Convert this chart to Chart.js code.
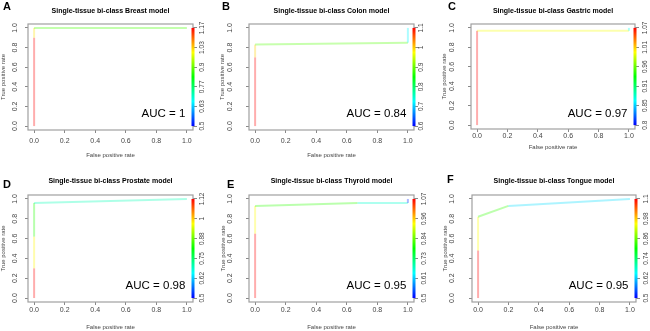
<!DOCTYPE html>
<html><head><meta charset="utf-8">
<script src="https://cdn.jsdelivr.net/npm/chart.js@4/dist/chart.umd.min.js"></script>
<style>
html,body{margin:0;padding:0;background:#fff;width:650px;height:331px;overflow:hidden;position:relative}
canvas{position:absolute}
</style>
</head><body>
<script>
// ---------- data ----------
const xTickValues = [0, 0.2, 0.4, 0.6, 0.8, 1.0];
const yTickValues = [0, 0.2, 0.4, 0.6, 0.8, 1.0];
const xTickLabels = ['0.0', '0.2', '0.4', '0.6', '0.8', '1.0'];
const yTickLabels = ['0.0', '0.2', '0.4', '0.6', '0.8', '1.0'];
const panelLetters = ['A', 'B', 'C', 'D', 'E', 'F'];
const panelTitles = [
  'Single-tissue bi-class Breast model',
  'Single-tissue bi-class Colon model',
  'Single-tissue bi-class Gastric model',
  'Single-tissue bi-class Prostate model',
  'Single-tissue bi-class Thyroid model',
  'Single-tissue bi-class Tongue model'
];
const aucValues = ['1', '0.84', '0.97', '0.98', '0.95', '0.95'];
const xAxisTitle = 'False positive rate';
const yAxisTitle = 'True positive rate';

// ROC curves (false positive rate, true positive rate, cutoff of each segment)
const breastFpr = [0, 0, 0, 1];
const breastTpr = [0, 0.9, 1, 1];
const breastCutoff = [1.17, 1.02, 0.88];
const breastScale = ['0.5', '0.63', '0.77', '0.9', '1.03', '1.17'];

const colonFpr = [0, 0, 0, 1, 1];
const colonTpr = [0, 0.7, 0.83, 0.85, 1];
const colonCutoff = [1.1, 1.0, 0.89, 0.72];
const colonScale = ['0.6', '0.7', '0.8', '0.9', '1', '1.1'];

const gastricFpr = [0, 0, 1, 1];
const gastricTpr = [0, 0.97, 0.97, 1];
const gastricCutoff = [1.07, 1.0, 0.87];
const gastricScale = ['0.8', '0.85', '0.91', '0.96', '1.01', '1.07'];

const prostateFpr = [0, 0, 0, 0, 1];
const prostateTpr = [0, 0.3, 0.62, 0.96, 1];
const prostateCutoff = [1.12, 0.97, 0.83, 0.70];
const prostateScale = ['0.5', '0.62', '0.75', '0.88', '1', '1.12'];

const thyroidFpr = [0, 0, 0, 0.67, 1, 1];
const thyroidTpr = [0, 0.65, 0.93, 0.96, 0.96, 1];
const thyroidCutoff = [1.07, 0.93, 0.81, 0.67, 0.52];
const thyroidScale = ['0.5', '0.61', '0.73', '0.84', '0.96', '1.07'];

const tongueFpr = [0, 0, 0, 0.2, 1];
const tongueTpr = [0, 0.48, 0.82, 0.93, 1];
const tongueCutoff = [1.1, 0.95, 0.83, 0.63];
const tongueScale = ['0.5', '0.62', '0.74', '0.86', '0.98', '1.1'];

const curves = [
  {fpr: breastFpr, tpr: breastTpr, cut: breastCutoff, scale: breastScale},
  {fpr: colonFpr, tpr: colonTpr, cut: colonCutoff, scale: colonScale},
  {fpr: gastricFpr, tpr: gastricTpr, cut: gastricCutoff, scale: gastricScale},
  {fpr: prostateFpr, tpr: prostateTpr, cut: prostateCutoff, scale: prostateScale},
  {fpr: thyroidFpr, tpr: thyroidTpr, cut: thyroidCutoff, scale: thyroidScale},
  {fpr: tongueFpr, tpr: tongueTpr, cut: tongueCutoff, scale: tongueScale}
];

// ---------- layout (page pixels) ----------
const layoutCfg = [
  {cell:[0,0,215,165],   box:[28,24,193,130],  letter:[3,10],    yTitleX:3.5,   yLabelX:15,  xLabelY:141,   xTitleY:155, cbLabelX:202.7, titleY:11},
  {cell:[215,0,215,165], box:[249,24,414,130], letter:[222,9.5], yTitleX:222.5, yLabelX:230, xLabelY:141,   xTitleY:155, cbLabelX:421,   titleY:11},
  {cell:[430,0,220,165], box:[471,24,635,129], letter:[448,10],  yTitleX:444,   yLabelX:452, xLabelY:136,   xTitleY:147, cbLabelX:645,   titleY:11},
  {cell:[0,165,215,166], box:[28,195,193,302], letter:[3,188],   yTitleX:3.5,   yLabelX:15,  xLabelY:310.5, xTitleY:327, cbLabelX:202,   titleY:181},
  {cell:[215,165,215,166], box:[249,195,414,302], letter:[227,188], yTitleX:223.5, yLabelX:230, xLabelY:310.5, xTitleY:327, cbLabelX:424, titleY:181},
  {cell:[430,165,220,166], box:[472,195,636,302], letter:[447,182.5], yTitleX:445, yLabelX:452, xLabelY:310.5, xTitleY:327, cbLabelX:646, titleY:181}
];

const FF = 'Arial, "Liberation Sans", Helvetica, sans-serif';
const TICK_SIZE = 7, CB_SIZE = 6.5, AXT_SIZE = 6, TITLE_SIZE = 7;
const TL = 3;
const ALPHA = 0.32;
const mctx = document.createElement('canvas').getContext('2d');
function textW(t, size) { mctx.font = size + 'px ' + FF; return mctx.measureText(t).width; }
function widest(arr, size) { return Math.max(...arr.map(t => textW(t, size))); }

function cutColor(v, lo, hi, a) {
  const p = Math.max(0, Math.min(1, (v - lo) / (hi - lo)));
  return `hsla(${(1 - p) * 240},100%,50%,${a})`;
}

const decorPlugin = {
  id: 'decor',
  beforeDatasetsDraw(chart) {
    const {ctx, chartArea: a} = chart;
    ctx.save();
    ctx.strokeStyle = '#a0a0a0';
    ctx.lineWidth = 1.2;
    ctx.strokeRect(a.left, a.top, a.right - a.left, a.bottom - a.top);
    ctx.restore();
  },
  afterDatasetsDraw(chart, args, o) {
    const {ctx, chartArea: a, scales} = chart;
    const x = scales.x, y = scales.y;
    ctx.save();
    const y0 = y.getPixelForValue(0), y1 = y.getPixelForValue(1);
    const g = ctx.createLinearGradient(0, y0, 0, y1);
    for (let k = 0; k <= 12; k++) { const p = k / 12; g.addColorStop(p, `hsl(${(1 - p) * 240},100%,50%)`); }
    ctx.fillStyle = g;
    ctx.fillRect(a.right - 1.5, y1, 3, y0 - y1);
    ctx.font = `11.5px ${FF}`;
    ctx.fillStyle = '#000';
    ctx.textAlign = 'right';
    ctx.textBaseline = 'middle';
    ctx.fillText(o.auc, x.getPixelForValue(1) - 1.5, y.getPixelForValue(0.12));
    ctx.font = `bold 11px ${FF}`;
    ctx.textAlign = 'left';
    ctx.textBaseline = 'alphabetic';
    ctx.fillText(o.letter, o.lx, o.ly);
    ctx.restore();
  }
};

function makePanel(i) {
  const L = layoutCfg[i], d = curves[i];
  const [cx, cy, W, H] = L.cell;
  const bl = L.box[0] - cx, bt = L.box[1] - cy, br = L.box[2] - cx, bb = L.box[3] - cy;
  const cv = document.createElement('canvas');
  cv.width = W; cv.height = H;
  cv.style.left = cx + 'px'; cv.style.top = cy + 'px';
  cv.style.width = W + 'px'; cv.style.height = H + 'px';
  document.body.appendChild(cv);

  const lo = parseFloat(d.scale[0]), hi = parseFloat(d.scale[d.scale.length - 1]);
  const titleLH = TITLE_SIZE * 1.2;
  const tyRel = L.titleY - cy;
  const yW = widest(yTickLabels, TICK_SIZE);
  const cbW = widest(d.scale, CB_SIZE);
  const axLH = AXT_SIZE * 1.2;

  new Chart(cv, {
    type: 'line',
    data: {
      datasets: [{
        data: d.fpr.map((v, k) => ({x: v, y: d.tpr[k]})),
        borderWidth: 2,
        pointRadius: 0,
        tension: 0,
        fill: false,
        borderColor: cutColor(d.cut[0], lo, hi, ALPHA),
        segment: { borderColor: c => cutColor(d.cut[c.p0DataIndex], lo, hi, ALPHA) },
        yAxisID: 'y'
      }]
    },
    options: {
      responsive: false,
      animation: false,
      devicePixelRatio: 1,
      events: [],
      layout: { padding: 0 },
      plugins: {
        legend: { display: false },
        tooltip: { enabled: false },
        title: {
          display: true, text: panelTitles[i], fullSize: false, color: '#000',
          font: { family: FF, size: TITLE_SIZE, weight: 'bold', lineHeight: 1.2 },
          padding: { top: tyRel - titleLH / 2, bottom: bt - tyRel - titleLH / 2 }
        },
        decor: { auc: 'AUC = ' + aucValues[i], letter: panelLetters[i], lx: L.letter[0] - cx, ly: L.letter[1] - cy }
      },
      scales: {
        x: {
          type: 'linear', position: 'bottom', min: -0.04, max: 1.04,
          afterBuildTicks: s => { s.ticks = xTickValues.map(v => ({value: v})); },
          afterFit: s => { s.height = H - bb; },
          border: { display: false },
          grid: { display: true, drawOnChartArea: false, drawTicks: true, tickLength: TL, color: '#888' },
          ticks: {
            autoSkip: false, maxRotation: 0, minRotation: 0, color: '#444',
            font: { family: FF, size: TICK_SIZE },
            padding: (L.xLabelY - cy) - bb - TL - TICK_SIZE * 0.6,
            callback: (v, k) => xTickLabels[k]
          },
          title: {
            display: true, text: xAxisTitle, color: '#444',
            font: { family: FF, size: AXT_SIZE, lineHeight: 1.2 },
            padding: { top: 0, bottom: H - (L.xTitleY - cy) - axLH / 2 }
          }
        },
        y: {
          type: 'linear', position: 'left', min: -0.04, max: 1.04,
          afterBuildTicks: s => { s.ticks = yTickValues.map(v => ({value: v})); },
          afterFit: s => { s.width = bl; },
          border: { display: false },
          grid: { display: true, drawOnChartArea: false, drawTicks: true, tickLength: TL, color: '#888' },
          ticks: {
            autoSkip: false, minRotation: 90, maxRotation: 90, crossAlign: 'center', color: '#444',
            font: { family: FF, size: TICK_SIZE },
            padding: bl - (L.yLabelX - cx) - TL - yW / 2,
            callback: (v, k) => yTickLabels[k]
          },
          title: {
            display: true, text: yAxisTitle, color: '#444',
            font: { family: FF, size: AXT_SIZE, lineHeight: 1 },
            padding: { top: (L.yTitleX - cx) - AXT_SIZE / 2, bottom: 0 }
          }
        },
        cb: {
          type: 'linear', position: 'right', min: -0.04, max: 1.04,
          afterBuildTicks: s => { s.ticks = yTickValues.map(v => ({value: v})); },
          afterFit: s => { s.width = W - br; },
          border: { display: false },
          grid: { display: true, drawOnChartArea: false, drawTicks: true, tickLength: 4, color: '#888' },
          ticks: {
            autoSkip: false, minRotation: 90, maxRotation: 90, crossAlign: 'center', color: '#444',
            font: { family: FF, size: CB_SIZE },
            padding: (L.cbLabelX - cx) - br - 4 - cbW / 2,
            callback: (v, k) => d.scale[k]
          }
        }
      }
    },
    plugins: [decorPlugin]
  });
}

for (let i = 0; i < 6; i++) makePanel(i);
</script>
</body></html>
